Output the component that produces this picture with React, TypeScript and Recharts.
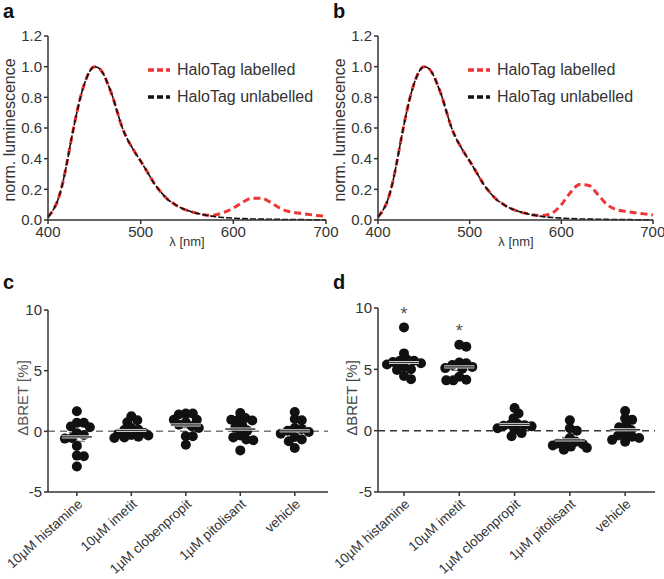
import React from 'react'
import { LineChart, Line, XAxis, YAxis, Legend, ScatterChart, Scatter, ReferenceLine, ErrorBar } from 'recharts'

const FONT = '"Liberation Sans", Arial, sans-serif'

// emission spectra (nm, normalised luminescence)
const wavelength = [
  400, 405, 410, 415, 420, 425, 430, 435, 440, 445, 450, 455, 460, 465, 470, 475, 480, 485, 490, 495,
  500, 505, 510, 515, 520, 525, 530, 535, 540, 545, 550, 555, 560, 565, 570, 575, 580,
  590, 600, 610, 620, 630, 640, 650, 660, 670, 680, 690, 700,
]
const unlabelled = [
  0.02, 0.06, 0.12, 0.22, 0.36, 0.52, 0.67, 0.8, 0.9, 0.97, 1.0, 0.99, 0.95, 0.88, 0.8, 0.7, 0.605, 0.535, 0.48, 0.43,
  0.385, 0.335, 0.285, 0.235, 0.195, 0.16, 0.13, 0.11, 0.09, 0.075, 0.063, 0.053, 0.045, 0.038, 0.032, 0.027, 0.022,
  0.016, 0.012, 0.009, 0.007, 0.006, 0.005, 0.004, 0.003, 0.003, 0.002, 0.002, 0.002,
]
const labelledA = [
  0.02, 0.06, 0.12, 0.22, 0.36, 0.52, 0.67, 0.8, 0.9, 0.97, 1.0, 0.99, 0.95, 0.88, 0.8, 0.7, 0.605, 0.535, 0.48, 0.43,
  0.385, 0.335, 0.285, 0.235, 0.195, 0.16, 0.13, 0.11, 0.09, 0.075, 0.063, 0.053, 0.045, 0.038, 0.033, 0.031, 0.033,
  0.05, 0.078, 0.115, 0.142, 0.142, 0.115, 0.078, 0.055, 0.045, 0.037, 0.03, 0.024,
]
const labelledB = [
  0.02, 0.06, 0.12, 0.22, 0.36, 0.52, 0.67, 0.8, 0.9, 0.97, 1.0, 0.99, 0.95, 0.88, 0.8, 0.7, 0.605, 0.535, 0.48, 0.43,
  0.385, 0.335, 0.285, 0.235, 0.195, 0.16, 0.13, 0.11, 0.09, 0.075, 0.063, 0.053, 0.045, 0.038, 0.032, 0.029, 0.03,
  0.045, 0.1, 0.18, 0.232, 0.225, 0.165, 0.1, 0.068, 0.056, 0.048, 0.04, 0.033,
]
const lumTicks = [0, 0.2, 0.4, 0.6, 0.8, 1.0, 1.2]
const nmTicks = [400, 500, 600, 700]

// ΔBRET [%] per treatment
const treatments = ['10µM histamine', '10µM imetit', '1µM clobenpropit', '1µM pitolisant', 'vehicle']
const bretC = [
  [1.65, 0.7, 0.7, 0.4, 0.33, -0.15, -0.3, -0.55, -0.6, -1.2, -2.0, -2.05, -2.9],
  [1.24, 0.91, 0.74, 0.28, 0.14, 0.1, -0.13, -0.2, -0.3, -0.35, -0.45, -0.5, -0.55],
  [1.46, 1.46, 1.38, 0.96, 0.96, 0.75, 0.55, 0.42, 0.28, -0.41, -0.41, -1.1],
  [1.51, 1.1, 0.96, 0.96, 0.9, 0.47, 0.3, 0.06, -0.35, -0.5, -0.68, -0.74, -1.57],
  [1.6, 1.02, 0.91, 0.28, 0.2, 0.05, -0.05, -0.2, -0.46, -0.68, -0.82, -1.37],
]
const bretD = [
  [8.42, 6.3, 5.8, 5.7, 5.7, 5.6, 5.5, 5.4, 5.2, 5.0, 4.95, 4.45, 4.2],
  [7.0, 6.85, 5.55, 5.5, 5.35, 5.2, 5.1, 5.05, 4.4, 4.15, 4.1, 4.1],
  [1.85, 1.4, 1.0, 0.55, 0.5, 0.45, 0.4, 0.35, 0.2, 0.05, -0.2, -0.45],
  [0.85, 0.2, 0.0, -0.6, -0.9, -1.0, -1.05, -1.1, -1.2, -1.3, -1.4, -1.55],
  [1.6, 1.0, 0.88, 0.45, 0.28, 0.05, -0.25, -0.4, -0.5, -0.6, -0.75, -0.9],
]
const significantD = [0, 1]
const bretTicks = [-5, 0, 5, 10]
const catTicks = [0, 1, 2, 3, 4]

const DOT_R = 5

// simple beeswarm so dots of one group don't pile up
function swarm(groups: number[][], pxPerX: number, pxPerY: number) {
  const out: { x: number; y: number }[] = []
  groups.forEach((vals, gi) => {
    const placed: { dx: number; dy: number }[] = []
    const sorted = [...vals].sort((a, b) => b - a)
    for (const v of sorted) {
      const dy = v * pxPerY
      let off = 0
      for (let k = 0; k < 60; k++) {
        const o = k === 0 ? 0 : (k % 2 ? 1 : -1) * Math.ceil(k / 2)
        if (placed.every((p) => Math.hypot(p.dx - o, p.dy - dy) >= DOT_R * 2 * 0.68)) {
          off = o
          break
        }
      }
      off = Math.max(-17, Math.min(17, off))
      placed.push({ dx: off, dy })
      out.push({ x: gi + off / pxPerX, y: v })
    }
  })
  return out
}

function stats(groups: number[][]) {
  return groups.map((vals, gi) => {
    const n = vals.length
    const mean = vals.reduce((s, v) => s + v, 0) / n
    const sd = Math.sqrt(vals.reduce((s, v) => s + (v - mean) ** 2, 0) / (n - 1))
    return { x: gi, y: mean, sem: sd / Math.sqrt(n) }
  })
}

const axisStroke = { stroke: '#333', strokeWidth: 1.5 }

const renderLegend = (props: any) => (
  <div>
    {(props.payload || []).map((e: any) => (
      <div key={e.value} style={{ display: 'flex', alignItems: 'center', height: 27 }}>
        <svg width={22} height={6}>
          <line x1={0} y1={3} x2={22} y2={3} stroke={e.color} strokeWidth={3.5} strokeDasharray="6 3" />
        </svg>
        <span style={{ marginLeft: 7, fontSize: 16, color: '#333', fontFamily: FONT, whiteSpace: 'nowrap' }}>{e.value}</span>
      </div>
    ))}
  </div>
)

function Spectrum({ labelled, width, right, legendLeft }: { labelled: number[]; width: number; right: number; legendLeft: number }) {
  const data = wavelength.map((w, i) => ({ w, labelled: labelled[i], unlabelled: unlabelled[i] }))
  return (
    <LineChart width={width} height={260} data={data} margin={{ top: 36, right, bottom: 12, left: 0 }}>
      <XAxis
        dataKey="w" type="number" domain={[400, 700]} ticks={nmTicks} height={28}
        tick={{ fontSize: 15, fill: '#333', fontFamily: FONT }} axisLine={axisStroke} tickLine={axisStroke} tickSize={4}
      />
      <YAxis
        type="number" domain={[0, 1.2]} ticks={lumTicks} width={48} tickFormatter={(v) => v.toFixed(1)}
        tick={{ fontSize: 15, fill: '#333', fontFamily: FONT }} axisLine={axisStroke} tickLine={axisStroke} tickSize={4}
      />
      <Line type="monotone" dataKey="labelled" name="HaloTag labelled" stroke="#f03535" strokeWidth={3} strokeDasharray="7 4" dot={false} isAnimationActive={false} />
      <Line type="monotone" dataKey="unlabelled" name="HaloTag unlabelled" stroke="#111" strokeWidth={1.6} strokeDasharray="6 2" dot={false} isAnimationActive={false} />
      <Legend layout="vertical" align="center" verticalAlign="middle" wrapperStyle={{ left: legendLeft, top: 56, width: 200 }} content={renderLegend} />
    </LineChart>
  )
}

function BretPanel({ groups, width, top, right, domain, zeroColor, sig }: {
  groups: number[][]; width: number; top: number; right: number; domain: [number, number]; zeroColor: string; sig: number[]
}) {
  const plotW = width - right - 48
  const plotH = 299 - top - 87
  const pts = swarm(groups, plotW / (domain[1] - domain[0]), plotH / 15)
  const means = stats(groups)
  const stars = sig.map((gi) => ({ x: gi, y: Math.max(...groups[gi]) + 1.35 }))
  return (
    <ScatterChart width={width} height={299} margin={{ top, right, bottom: 0, left: 0 }}>
      <XAxis
        dataKey="x" type="number" domain={domain} ticks={catTicks} interval={0} height={87}
        tickFormatter={(v) => treatments[v]} angle={-42} textAnchor="end"
        tick={{ fontSize: 13.5, fill: '#333', fontFamily: FONT }} axisLine={axisStroke} tickLine={axisStroke} tickSize={4}
      />
      <YAxis
        dataKey="y" type="number" domain={[-5, 10]} ticks={bretTicks} width={48}
        tick={{ fontSize: 15, fill: '#333', fontFamily: FONT }} axisLine={axisStroke} tickLine={axisStroke} tickSize={4}
      />
      <ReferenceLine y={0} stroke={zeroColor} strokeWidth={1.5} strokeDasharray="7 5" />
      <Scatter data={pts} fill="#111" isAnimationActive={false}
        shape={(p: any) => <circle cx={p.cx} cy={p.cy} r={DOT_R} fill="#111" />} />
      <Scatter data={means} isAnimationActive={false}
        shape={(p: any) => (
          <g>
            <line x1={p.cx - 15} x2={p.cx + 15} y1={p.cy} y2={p.cy} stroke="#fff" strokeWidth={3} />
            <line x1={p.cx - 15} x2={p.cx + 15} y1={p.cy} y2={p.cy} stroke="#333" strokeWidth={1.5} />
          </g>
        )}>
        <ErrorBar dataKey="sem" direction="y" width={8} stroke="#777" strokeWidth={1.2} />
      </Scatter>
      <Scatter data={stars} isAnimationActive={false}
        shape={(p: any) => (
          <text x={p.cx} y={p.cy + 9} textAnchor="middle" fontSize={18} fill="#555" fontFamily={FONT}>*</text>
        )} />
    </ScatterChart>
  )
}

const letter = (t: string, left: number, top: number) => (
  <div style={{ position: 'absolute', left, top, fontSize: 20, fontWeight: 'bold', lineHeight: '20px', color: '#111' }}>{t}</div>
)
const vLabel = (t: string, cx: number, cy: number, size: number, color: string) => (
  <div style={{ position: 'absolute', left: cx, top: cy, transform: 'translate(-50%, -50%) rotate(-90deg)', fontSize: size, color, whiteSpace: 'nowrap' }}>{t}</div>
)
const hLabel = (t: string, cx: number, cy: number, size: number) => (
  <div style={{ position: 'absolute', left: cx, top: cy, transform: 'translate(-50%, -50%)', fontSize: size, color: '#333', whiteSpace: 'nowrap' }}>{t}</div>
)

export default function App() {
  return (
    <div style={{ position: 'absolute', left: 0, top: 0, width: 664, height: 579, background: '#fff', fontFamily: FONT, overflow: 'hidden' }}>
      <div style={{ position: 'absolute', left: 0, top: 0 }}>
        <Spectrum labelled={labelledA} width={345} right={19} legendLeft={148} />
      </div>
      <div style={{ position: 'absolute', left: 330, top: 0 }}>
        <Spectrum labelled={labelledB} width={334} right={11} legendLeft={138} />
      </div>
      <div style={{ position: 'absolute', left: 0, top: 280 }}>
        <BretPanel groups={bretC} width={335} top={30} right={7} domain={[-0.53, 4.61]} zeroColor="#777" sig={[]} />
      </div>
      <div style={{ position: 'absolute', left: 330, top: 280 }}>
        <BretPanel groups={bretD} width={334} top={28} right={9} domain={[-0.47, 4.54]} zeroColor="#333" sig={significantD} />
      </div>
      {letter('a', 3, 1)}
      {letter('b', 333, 1)}
      {letter('c', 3, 272)}
      {letter('d', 333, 272)}
      {vLabel('norm. luminescence', 10, 130, 16, '#333')}
      {vLabel('norm. luminescence', 340, 130, 16, '#333')}
      {hLabel('λ [nm]', 187, 241, 13)}
      {hLabel('λ [nm]', 516, 241, 13)}
      {vLabel('ΔBRET [%]', 22, 398, 15, '#555')}
      {vLabel('ΔBRET [%]', 351, 398, 15, '#444')}
    </div>
  )
}
